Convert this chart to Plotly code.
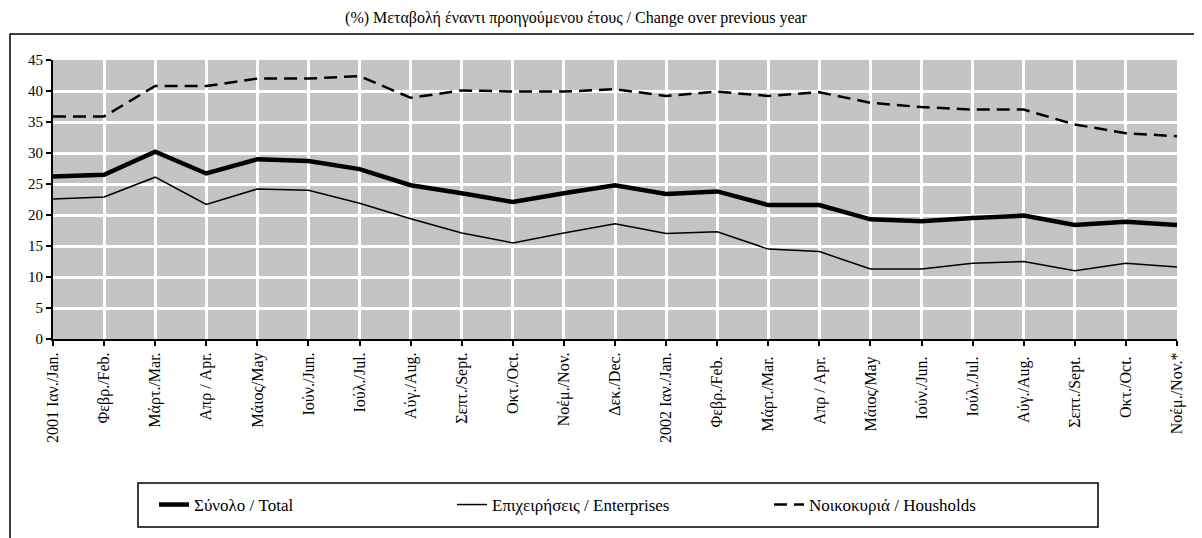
import plotly.graph_objects as go

months = ["2001 Ιαν./Jan.", "Φεβρ./Feb.", "Μάρτ./Mar.", "Απρ / Apr.", "Μάιος/May", "Ιούν./Jun.",
          "Ιούλ./Jul.", "Αύγ./Aug.", "Σεπτ./Sept.", "Οκτ./Oct.", "Νοέμ./Nov.", "Δεκ./Dec.",
          "2002 Ιαν./Jan.", "Φεβρ./Feb. ", "Μάρτ./Mar. ", "Απρ / Apr. ", "Μάιος/May ", "Ιούν./Jun. ",
          "Ιούλ./Jul. ", "Αύγ./Aug. ", "Σεπτ./Sept. ", "Οκτ./Oct. ", "Νοέμ./Nov.*"]

total = [26.2, 26.5, 30.2, 26.7, 29.0, 28.7, 27.4, 24.8, 23.5, 22.1, 23.5, 24.8,
         23.4, 23.8, 21.6, 21.6, 19.3, 19.0, 19.5, 19.9, 18.4, 18.9, 18.4]
enterprises = [22.6, 22.9, 26.1, 21.7, 24.2, 24.0, 21.9, 19.4, 17.1, 15.5, 17.1, 18.6,
               17.0, 17.3, 14.5, 14.1, 11.3, 11.3, 12.2, 12.5, 11.0, 12.2, 11.6]
households = [35.9, 35.9, 40.8, 40.8, 42.0, 42.0, 42.4, 38.9, 40.1, 39.9, 39.9, 40.3,
              39.2, 39.9, 39.2, 39.8, 38.1, 37.4, 37.0, 37.0, 34.6, 33.2, 32.7]

names = ["Σύνολο / Total", "Επιχειρήσεις / Enterprises", "Νοικοκυριά / Housholds"]
yticks = [0, 5, 10, 15, 20, 25, 30, 35, 40, 45]
title_text = "(%) Μεταβολή έναντι προηγούμενου έτους / Change over previous year"

FONT = "Liberation Serif"
W, H = 1202, 538
OFF = 8  # page body margin
L, R, T, B = 53 - OFF, 1177 - OFF, 60 - OFF, 339 - OFF
pw, ph = R - L, B - T


def px_x(x):
    return (x - OFF - L) / pw


def px_y(y):
    return (B - (y - OFF)) / ph


fig = go.Figure()
fig.add_trace(go.Scatter(x=months, y=total, mode="lines", name=names[0], legend="legend",
                         line=dict(color="black", width=4.5)))
fig.add_trace(go.Scatter(x=months, y=enterprises, mode="lines", name=names[1], legend="legend2",
                         line=dict(color="black", width=1.5)))
fig.add_trace(go.Scatter(x=months, y=households, mode="lines", name=names[2], legend="legend3",
                         line=dict(color="black", width=2.5, dash="13px,7px")))

leg_common = dict(orientation="h", xanchor="left", yanchor="middle", y=px_y(505),
                  bgcolor="rgba(0,0,0,0)", borderwidth=0,
                  font=dict(family=FONT, size=17, color="black"))

fig.update_layout(
    width=W, height=H,
    margin=dict(l=L, r=W - R, t=T, b=H - B, pad=0),
    paper_bgcolor="white",
    plot_bgcolor="#c4c4c4",
    font=dict(family=FONT, color="black", size=15),
    title=dict(text=title_text, x=(576 - OFF) / W, xanchor="center", y=1 - 9 / H, yanchor="middle",
               font=dict(family=FONT, size=16, color="black")),
    xaxis=dict(type="category", categoryorder="array", categoryarray=months,
               range=[0, len(months) - 1], showgrid=True, gridcolor="white", gridwidth=2.5,
               showline=True, linecolor="black", linewidth=2, ticks="outside", ticklen=5,
               tickwidth=2, tickcolor="black", tickangle=-90,
               tickfont=dict(family=FONT, size=16), zeroline=False),
    yaxis=dict(range=[0, 45], tickvals=yticks, showgrid=True, gridcolor="white", gridwidth=2.5,
               showline=True, linecolor="black", linewidth=2, ticks="outside", ticklen=5,
               tickwidth=2, tickcolor="black", tickfont=dict(family=FONT, size=15),
               zeroline=False),
    showlegend=True,
    legend=dict(leg_common, x=px_x(154)),
    legend2=dict(leg_common, x=px_x(452)),
    legend3=dict(leg_common, x=px_x(769)),
    shapes=[
        dict(type="rect", xref="paper", yref="paper",
             x0=px_x(10), x1=px_x(1240), y0=px_y(590), y1=px_y(34),
             line=dict(color="black", width=1.5), fillcolor="rgba(0,0,0,0)", layer="below"),
        dict(type="rect", xref="paper", yref="paper",
             x0=px_x(138), x1=px_x(1098), y0=px_y(527), y1=px_y(483),
             line=dict(color="black", width=1.5), fillcolor="rgba(0,0,0,0)", layer="below"),
    ],
)

fig.write_html("out.html")
